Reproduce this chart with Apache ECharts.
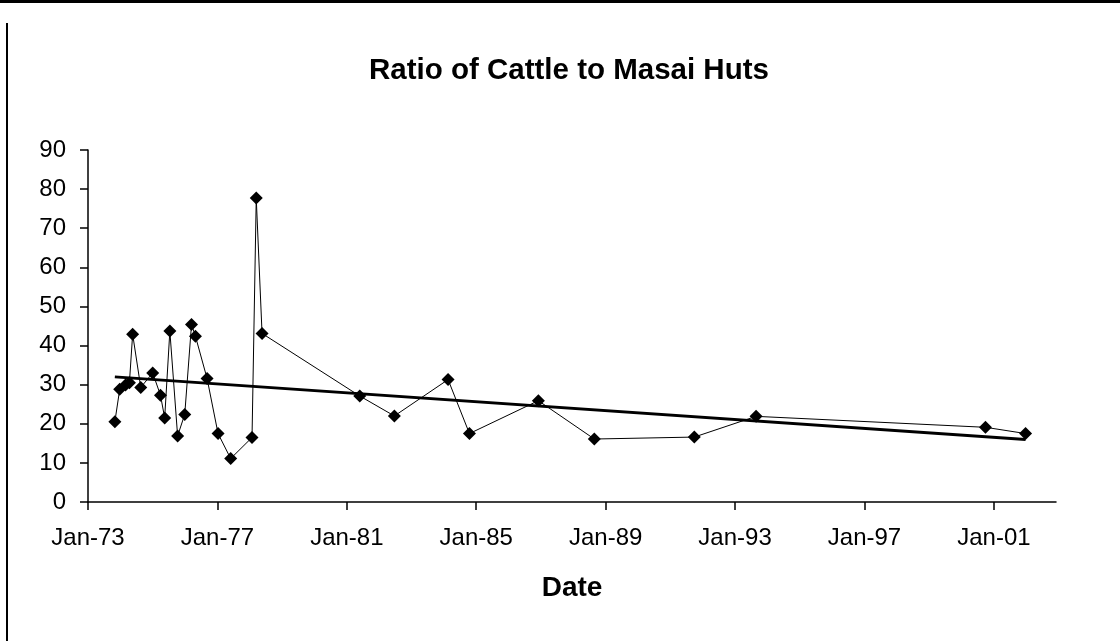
<!DOCTYPE html>
<html>
<head>
<meta charset="utf-8">
<script src="https://cdn.jsdelivr.net/npm/echarts@6/dist/echarts.min.js"></script>
<style>
  html, body { margin: 0; padding: 0; background: #fff; }
  #main { width: 1120px; height: 641px; }
</style>
</head>
<body>
<div id="main"></div>
<script>
// dates as decimal years
var dates = [1973.83, 1973.98, 1974.16, 1974.28, 1974.38, 1974.63, 1975.00, 1975.24, 1975.37, 1975.53,
             1975.77, 1975.99, 1976.20, 1976.32, 1976.68, 1977.02, 1977.41, 1978.07, 1978.20, 1978.38,
             1981.40, 1982.47, 1984.13, 1984.79, 1986.92, 1988.65, 1991.74, 1993.65, 2000.74, 2001.98];
var ratios = [20.5, 28.8, 29.9, 30.5, 42.9, 29.3, 33.0, 27.3, 21.5, 43.7,
              16.9, 22.4, 45.4, 42.4, 31.6, 17.5, 11.1, 16.5, 77.7, 43.1,
              27.1, 22.0, 31.3, 17.5, 25.9, 16.1, 16.6, 21.9, 19.1, 17.5];
var xTicks = [1973, 1977, 1981, 1985, 1989, 1993, 1997, 2001];
var xTickLabels = ['Jan-73', 'Jan-77', 'Jan-81', 'Jan-85', 'Jan-89', 'Jan-93', 'Jan-97', 'Jan-01'];

// linear trendline (least squares), from first to last date
var n = dates.length, sx = 0, sy = 0, sxx = 0, sxy = 0;
for (var i = 0; i < n; i++) {
    sx += dates[i]; sy += ratios[i];
    sxx += dates[i] * dates[i]; sxy += dates[i] * ratios[i];
}
var slope = (n * sxy - sx * sy) / (n * sxx - sx * sx);
var icpt = (sy - slope * sx) / n;
var x0 = dates[0], x1 = dates[n - 1];
var trend = [[x0, icpt + slope * x0], [x1, icpt + slope * x1]];

var font = 'Liberation Sans, Arial, sans-serif';
var myChart = echarts.init(document.getElementById('main'));

var option = {
    backgroundColor: '#fff',
    animation: false,
    title: {
        text: 'Ratio of Cattle to Masai Huts',
        left: 369,
        top: 56,
        padding: 0,
        textStyle: { fontFamily: font, fontSize: 29.5, fontWeight: 'bold', color: '#000' }
    },
    grid: { left: 88, right: 64, top: 150, bottom: 139 },
    xAxis: {
        type: 'value',
        min: 1973,
        max: 2002.92,
        name: 'Date',
        nameLocation: 'middle',
        nameGap: 72,
        nameTextStyle: { fontFamily: font, fontSize: 28, fontWeight: 'bold', color: '#000' },
        splitLine: { show: false },
        axisLine: { lineStyle: { color: '#000', width: 1.5 } },
        axisTick: { show: true, length: 8, customValues: xTicks, lineStyle: { color: '#000', width: 1.5 } },
        axisLabel: {
            customValues: xTicks,
            margin: 24,
            fontFamily: font, fontSize: 24, color: '#000',
            formatter: function (v) { return xTickLabels[xTicks.indexOf(Math.round(v))] || ''; }
        }
    },
    yAxis: {
        type: 'value',
        min: 0,
        max: 90,
        interval: 10,
        splitLine: { show: false },
        axisLine: { show: true, lineStyle: { color: '#000', width: 1.5 } },
        axisTick: { show: true, length: 8, lineStyle: { color: '#000', width: 1.5 } },
        axisLabel: { margin: 22, fontFamily: font, fontSize: 24, color: '#000' }
    },
    series: [{
        name: 'Ratio',
        type: 'line',
        data: dates.map(function (d, i) { return [d, ratios[i]]; }),
        symbol: 'diamond',
        symbolSize: 13,
        itemStyle: { color: '#000' },
        lineStyle: { color: '#000', width: 1 },
        z: 3
    }, {
        name: 'Trend',
        type: 'line',
        data: trend,
        symbol: 'none',
        lineStyle: { color: '#000', width: 3 },
        z: 2
    }],
    graphic: [
        { type: 'rect', shape: { x: 0, y: 0, width: 1120, height: 3 }, style: { fill: '#000' } },
        { type: 'rect', shape: { x: 6, y: 23, width: 2, height: 618 }, style: { fill: '#000' } }
    ]
};

myChart.setOption(option);
</script>
</body>
</html>
